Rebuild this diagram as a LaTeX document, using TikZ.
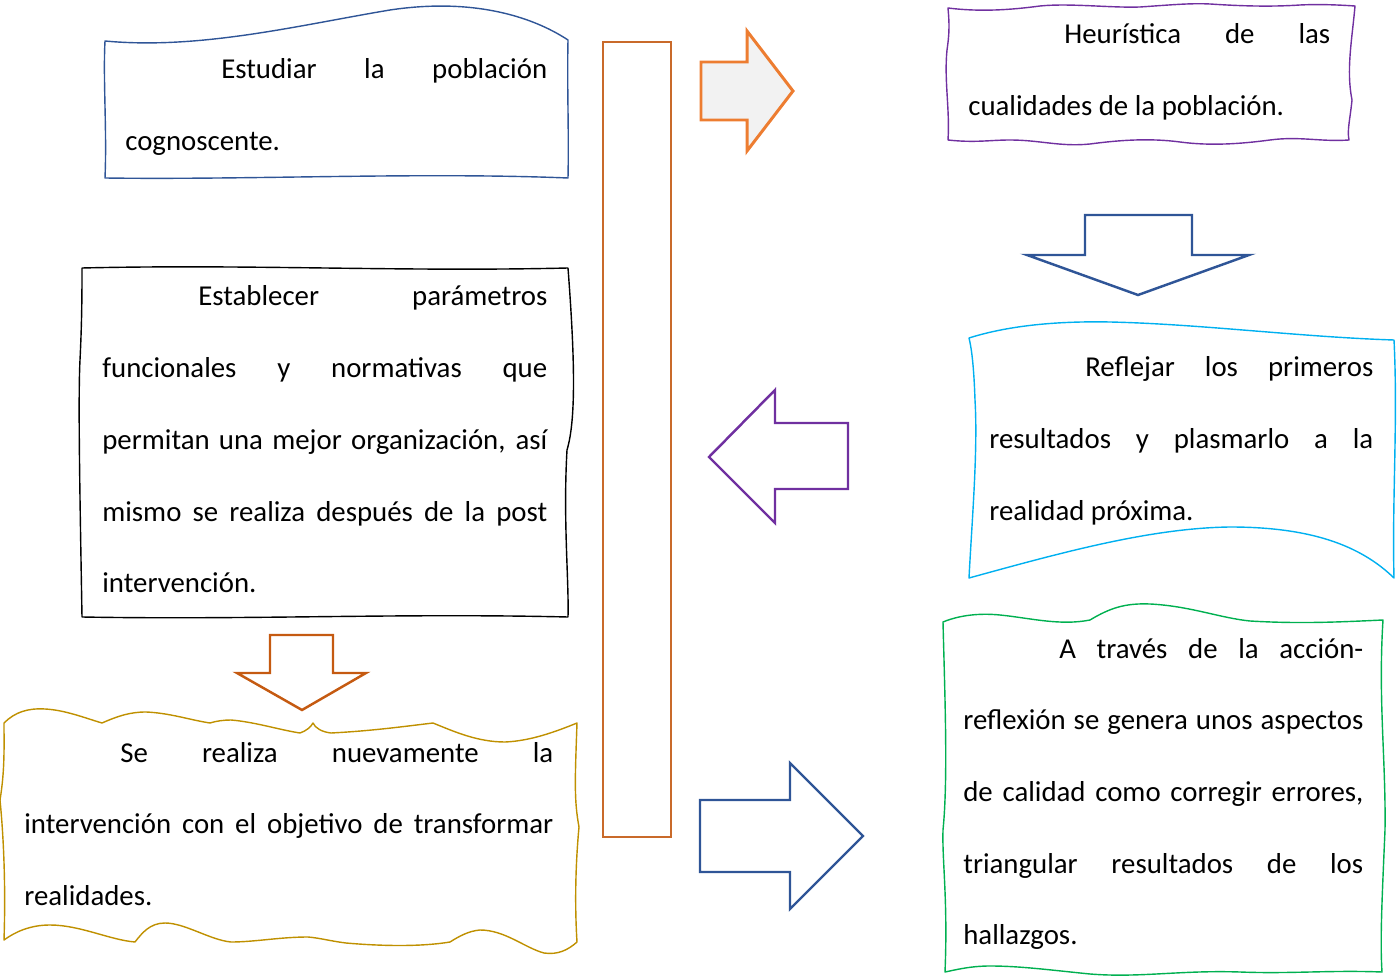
\documentclass[tikz,border=0pt]{standalone}
\usepackage{fontspec}
\setmainfont{Carlito}
\usetikzlibrary{positioning}
\definecolor{azul}{HTML}{2F5597}
\definecolor{naranja}{HTML}{ED7D31}
\definecolor{ocre}{HTML}{C55A11}
\definecolor{oro}{HTML}{BF9000}
\definecolor{morado}{HTML}{7030A0}
\definecolor{celeste}{HTML}{00B0F0}
\definecolor{verde}{HTML}{00B050}
\definecolor{gris}{HTML}{F2F2F2}
\newcommand{\sangria}{\hspace*{1.92cm}}
\hyphenpenalty=10000

\begin{document}
\begin{tikzpicture}[x=0.02cm,y=-0.02cm,
    txt/.style={anchor=base west, inner sep=0pt, align=justify,
        font=\fontsize{16.4pt}{40.8pt}\selectfont},
    borde/.style={line width=0.8pt, line join=round},
    flecha/.style={line width=1.4pt, line join=miter}]
\useasboundingbox (0,0) rectangle (1397,976);
%
% left column
\draw[borde, azul] (105,41) .. controls (200,50) and (300,25) .. (390,10)
    .. controls (470,-2) and (530,15) .. (568,40)
    .. controls (567,90) and (569,130) .. (568,178)
    .. controls (420,172) and (250,180) .. (105,178)
    .. controls (107,130) and (103,80) .. cycle;
\node[txt, text width=8.44cm] (estudiar) at (125,79)
    {\sangria Estudiar la población \linebreak cognoscente.};
%
\draw[borde, black] (82,268) .. controls (250,264) and (400,272) .. (568,268)
    .. controls (575,360) and (576,420) .. (567,450)
    .. controls (563,520) and (569,580) .. (568,617)
    .. controls (400,613) and (250,620) .. (82,617)
    .. controls (80,500) and (78,400) .. (80,360)
    .. controls (82,320) and (82,290) .. cycle;
\node[txt, text width=8.9cm] (parametros) at (102,306)
    {\sangria Establecer parámetros \linebreak funcionales y normativas que
    \linebreak permitan una mejor organización, así \linebreak mismo se realiza
    después de la post \linebreak intervención.};
%
\draw[flecha, ocre] (270,635) -- (333,635) -- (333,673) -- (366,673)
    -- (302,710) -- (237,673) -- (270,673) -- cycle;
%
\draw[borde, oro] (4,723) .. controls (15,712) and (28,708) .. (45,709)
    .. controls (65,710) and (85,718) .. (102,723)
    .. controls (118,716) and (130,712) .. (146,712)
    .. controls (170,713) and (190,720) .. (210,723)
    .. controls (216,721) and (224,720) .. (231,720)
    .. controls (255,722) and (280,730) .. (300,733)
    .. controls (306,731) and (311,727) .. (313,723)
    .. controls (315,728) and (322,732) .. (331,733)
    .. controls (370,731) and (400,727) .. (433,723)
    .. controls (455,732) and (478,742) .. (505,742)
    .. controls (530,741) and (555,732) .. (577,723)
    .. controls (575,780) and (574,800) .. (579,827)
    .. controls (575,870) and (575,910) .. (577,942)
    .. controls (568,950) and (558,955) .. (544,953)
    .. controls (525,948) and (505,930) .. (480,930)
    .. controls (468,931) and (458,937) .. (450,942)
    .. controls (420,947) and (380,946) .. (346,943)
    .. controls (330,941) and (320,938) .. (308,937)
    .. controls (280,937) and (255,942) .. (231,942)
    .. controls (210,940) and (185,923) .. (165,923)
    .. controls (150,923) and (142,933) .. (135,942)
    .. controls (110,940) and (80,925) .. (50,925)
    .. controls (30,925) and (15,932) .. (4,940)
    .. controls (6,880) and (3,830) .. (0,800)
    .. controls (5,770) and (4,745) .. cycle;
\node[txt, text width=10.58cm] (intervencion) at (24,762)
    {\sangria Se realiza nuevamente la \linebreak intervención con el objetivo
    de transformar \linebreak realidades.};
%
% middle bar
\draw[line width=0.6pt, naranja!85!black] (603,42) rectangle (671,837);
%
% right column
\draw[line width=1.7pt, naranja, fill=gris] (701,62) -- (747,62) -- (747,31)
    -- (793,91) -- (747,151) -- (747,120) -- (701,120) -- cycle;
%
\draw[borde, morado] (948,8) .. controls (980,12) and (1010,10) .. (1040,6)
    .. controls (1070,3) and (1110,8) .. (1140,7)
    .. controls (1170,5) and (1190,3) .. (1210,4)
    .. controls (1240,6) and (1270,7) .. (1300,5)
    .. controls (1320,4) and (1340,5) .. (1355,6)
    .. controls (1352,40) and (1346,70) .. (1352,100)
    .. controls (1350,120) and (1347,130) .. (1349,140)
    .. controls (1320,142) and (1300,136) .. (1270,140)
    .. controls (1240,144) and (1210,146) .. (1180,142)
    .. controls (1150,138) and (1120,140) .. (1090,144)
    .. controls (1060,147) and (1040,140) .. (1010,140)
    .. controls (990,140) and (975,143) .. (948,140)
    .. controls (950,110) and (944,80) .. (947,50)
    .. controls (950,30) and (949,20) .. cycle;
\node[txt, text width=7.24cm] (heuristica) at (968,44)
    {\sangria Heurística de las \linebreak cualidades de la población.};
%
\draw[flecha, azul] (1085,215) -- (1192,215) -- (1192,255) -- (1249,255)
    -- (1138,295) -- (1027,255) -- (1085,255) -- cycle;
%
\draw[borde, celeste] (969,338) .. controls (1010,325) and (1060,321) .. (1110,322)
    .. controls (1200,324) and (1300,337) .. (1394,340)
    .. controls (1398,420) and (1392,500) .. (1394,578)
    .. controls (1360,545) and (1310,527) .. (1230,527)
    .. controls (1150,528) and (1060,553) .. (969,578)
    .. controls (972,520) and (978,450) .. (975,400)
    .. controls (974,370) and (972,350) .. cycle;
\node[txt, text width=7.68cm] (reflejar) at (989,377)
    {\sangria Reflejar los primeros \linebreak resultados y plasmarlo a la
    \linebreak realidad próxima.};
%
\draw[flecha, morado] (848,423) -- (848,489) -- (775,489) -- (775,523)
    -- (709,457) -- (775,390) -- (775,423) -- cycle;
%
\draw[flecha, azul] (700,800) -- (790,800) -- (790,763) -- (863,836)
    -- (790,909) -- (790,872) -- (700,872) -- cycle;
%
\draw[borde, verde] (943,622) .. controls (960,615) and (980,613) .. (1000,615)
    .. controls (1030,618) and (1060,626) .. (1090,620)
    .. controls (1110,608) and (1125,603) .. (1150,604)
    .. controls (1190,606) and (1220,618) .. (1250,621)
    .. controls (1300,624) and (1340,622) .. (1383,620)
    .. controls (1378,700) and (1386,760) .. (1385,830)
    .. controls (1382,900) and (1380,940) .. (1382,972)
    .. controls (1330,970) and (1290,974) .. (1240,972)
    .. controls (1180,970) and (1140,978) .. (1090,974)
    .. controls (1050,970) and (1020,966) .. (990,966)
    .. controls (970,966) and (955,970) .. (945,972)
    .. controls (948,900) and (942,860) .. (943,830)
    .. controls (948,780) and (945,700) .. cycle;
\node[txt, text width=8cm] (accion) at (963,658)
    {\sangria A través de la acción-\linebreak reflexión se genera unos aspectos
    \linebreak de calidad como corregir errores, \linebreak triangular resultados
    de los \linebreak hallazgos.};
\end{tikzpicture}
\end{document}
